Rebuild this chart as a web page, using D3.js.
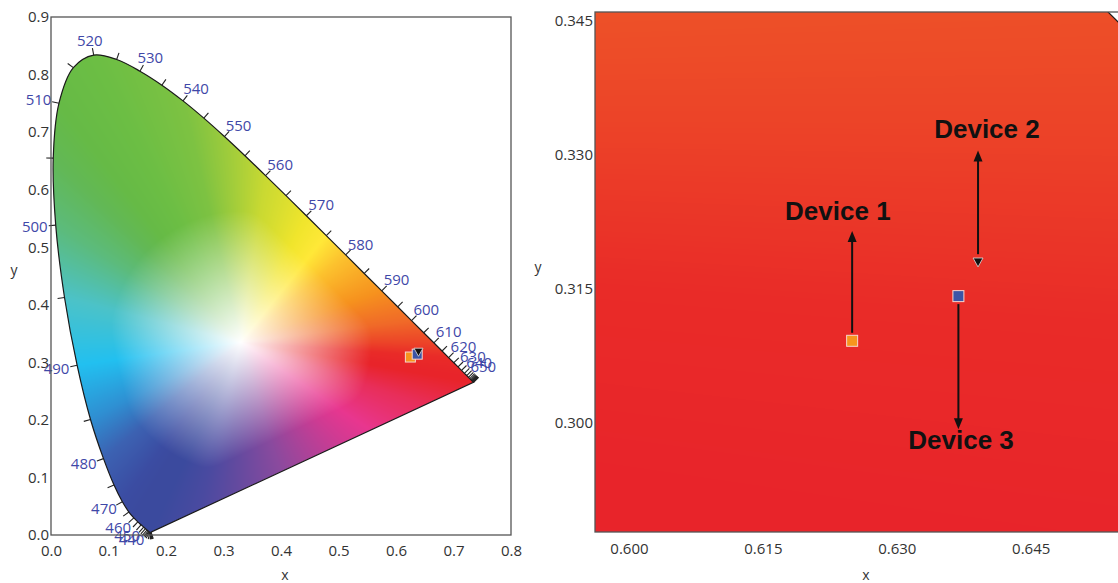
<!DOCTYPE html>
<html>
<head>
<meta charset="UTF-8">
<style>
  body { margin: 0; background: #fff; }
  svg { display: block; }
</style>
</head>
<body>
<svg></svg>
<script src="https://d3js.org/d3.v7.min.js"></script>
<script>
const width = 1118, height = 583;

// CIE 1931 spectral locus, 380..700 nm in 5 nm steps
const locusWl = d3.range(380, 705, 5);
const locusX = [0.1741,0.1740,0.1738,0.1736,0.1733,0.1730,0.1726,0.1721,0.1714,0.1703,0.1689,0.1669,0.1644,0.1611,0.1566,0.1510,
  0.1440,0.1355,0.1241,0.1096,0.0913,0.0687,0.0454,0.0235,0.0082,0.0039,0.0139,0.0389,0.0743,0.1142,0.1547,0.1929,
  0.2296,0.2658,0.3016,0.3373,0.3731,0.4087,0.4441,0.4788,0.5125,0.5448,0.5752,0.6029,0.6270,0.6482,0.6658,0.6801,
  0.6915,0.7006,0.7079,0.7140,0.7190,0.7230,0.7260,0.7283,0.7300,0.7311,0.7320,0.7327,0.7334,0.7340,0.7344,0.7346,0.7347];
const locusY = [0.0050,0.0050,0.0049,0.0049,0.0048,0.0048,0.0048,0.0048,0.0051,0.0058,0.0069,0.0086,0.0109,0.0138,0.0177,0.0227,
  0.0297,0.0399,0.0578,0.0868,0.1327,0.2007,0.2950,0.4127,0.5384,0.6548,0.7502,0.8120,0.8338,0.8262,0.8059,0.7816,
  0.7543,0.7243,0.6923,0.6589,0.6245,0.5896,0.5547,0.5202,0.4866,0.4544,0.4242,0.3965,0.3725,0.3514,0.3340,0.3197,
  0.3083,0.2993,0.2920,0.2859,0.2809,0.2770,0.2740,0.2717,0.2700,0.2689,0.2680,0.2673,0.2666,0.2660,0.2656,0.2654,0.2653];

// wavelengths that carry a label (every other tick)
const labelWl = d3.range(440, 660, 10);

// colours seen along the edge of the diagram
const edgeWl = [460, 470, 480, 485, 490, 495, 500, 505, 510, 520, 540, 550, 560, 570, 575, 580, 590, 600, 610, 620, 650];
const edgeCol = ["#3b4a9e", "#3b4ca2", "#3c62b2", "#2f8fd2", "#22c0f0", "#4cc2c8", "#5cbb7c", "#62b856", "#66ba46", "#6cbe44",
  "#7dc242", "#9ccb3c", "#c9d932", "#f0e52c", "#ffe838", "#fcc22e", "#f6921e", "#f06a28", "#ec4428", "#e92b28", "#e8242a"];
// colours along the purple line (0 = 380 nm end, 1 = 700 nm end)
const purpleT = [0.0, 0.15, 0.4, 0.6, 0.68, 0.85];
const purpleCol = ["#3b4a9e", "#4a4aa0", "#8a4a9e", "#d23a92", "#e8368f", "#e82e5a"];
const whitePoint = [0.33, 0.335];

// devices
const devName = ["Device 1", "Device 2", "Device 3"];
const devX = [0.625, 0.6391, 0.6369];
const devY = [0.3092, 0.3180, 0.3142];
const devShape = ["square", "triangle", "square"];
const devColor = ["#f7941d", "#111111", "#3b55a6"];
// arrows and labels in the zoomed panel (data units)
const arrowTipY = [0.3215, 0.3305, 0.2993];
const labelX = [0.6234, 0.6401, 0.6372];
const labelY = [0.3227, 0.3319, 0.2971];

const xTicksL = d3.range(0, 0.81, 0.1), yTicksL = d3.range(0, 0.91, 0.1);
const xTicksR = [0.600, 0.615, 0.630, 0.645], yTicksR = [0.300, 0.315, 0.330, 0.345];

const svg = d3.select("svg").attr("width", width).attr("height", height)
  .style("font-family", "'Open Sans', sans-serif");

const xL = d3.scaleLinear().domain([0, 0.8]).range([51, 511]);
const yL = d3.scaleLinear().domain([0, 0.9]).range([535, 17]);
const xR = d3.scaleLinear().domain([0.5962, 0.6550]).range([595, 1120]);
const yR = d3.scaleLinear().domain([0.2878, 0.3460]).range([532, 12]);

const locus = locusWl.map((w, i) => [locusX[i], locusY[i]]);
const nL = locus.length;

// ---- colour field: edge colour by angle round the white point, faded to white towards it
const TAU = Math.PI * 2, NB = 2880;
const angOf = p => Math.atan2(p[1] - whitePoint[1], p[0] - whitePoint[0]);
const a0 = angOf(locus[nL - 1]) - 1e-4;
const rel = p => { let a = angOf(p) - a0; while (a < 0) a += TAU; return a % TAU; };

let stops = [{a: 0, c: edgeCol[edgeCol.length - 1]}, {a: TAU, c: edgeCol[edgeCol.length - 1]}];
edgeWl.forEach((w, i) => stops.push({a: rel(locus[locusWl.indexOf(w)]), c: edgeCol[i]}));
purpleT.forEach((t, i) => {
  const p = [locus[0][0] + t * (locus[nL - 1][0] - locus[0][0]), locus[0][1] + t * (locus[nL - 1][1] - locus[0][1])];
  stops.push({a: rel(p), c: purpleCol[i]});
});
stops.sort((a, b) => a.a - b.a);
const edgeScale = d3.scaleLinear().domain(stops.map(s => s.a)).range(stops.map(s => s.c));

const rawB = new Float64Array(NB), edgeRgb = [];
for (let b = 0; b < NB; b++) {
  const th = a0 + (b + 0.5) / NB * TAU, dx = Math.cos(th), dy = Math.sin(th);
  let best = Infinity;
  for (let k = 0; k < nL; k++) {
    const p = locus[k], q = locus[(k + 1) % nL];
    const ex = q[0] - p[0], ey = q[1] - p[1];
    const den = dx * ey - dy * ex;
    if (Math.abs(den) < 1e-12) continue;
    const wx = p[0] - whitePoint[0], wy = p[1] - whitePoint[1];
    const t = (wx * ey - wy * ex) / den, u = (wx * dy - wy * dx) / den;
    if (t > 0 && u >= -1e-9 && u <= 1 + 1e-9) best = Math.min(best, t);
  }
  rawB[b] = Math.min(best, 0.3);
  edgeRgb.push(d3.rgb(edgeScale((b + 0.5) / NB * TAU)));
}
// soften the kinks of the edge so that no hard rays show
const boundary = new Float64Array(NB), SW = 40;
for (let b = 0; b < NB; b++) {
  let s = 0;
  for (let k = -SW; k <= SW; k++) s += rawB[(b + k + NB) % NB];
  boundary[b] = s / (2 * SW + 1);
}

function renderField(sx, sy, x0, y0, w, h, s) {
  const cv = document.createElement("canvas");
  cv.width = Math.round(w * s); cv.height = Math.round(h * s);
  const ctx = cv.getContext("2d");
  const img = ctx.createImageData(cv.width, cv.height), px = img.data;
  for (let j = 0; j < cv.height; j++) {
    const dy = sy.invert(y0 + (j + 0.5) / s) - whitePoint[1];
    for (let i = 0; i < cv.width; i++) {
      const dx = sx.invert(x0 + (i + 0.5) / s) - whitePoint[0];
      let a = Math.atan2(dy, dx) - a0;
      while (a < 0) a += TAU;
      const b = Math.floor(a / TAU * NB) % NB;
      const r = Math.hypot(dx, dy) / boundary[b];
      if (r > 3) continue;
      const t = Math.min(1, r / 0.76), c = edgeRgb[b], o = (j * cv.width + i) * 4;
      px[o] = 255 + (c.r - 255) * t;
      px[o + 1] = 255 + (c.g - 255) * t;
      px[o + 2] = 255 + (c.b - 255) * t;
      px[o + 3] = 255;
    }
  }
  ctx.putImageData(img, 0, 0);
  return cv.toDataURL();
}

const defs = svg.append("defs");
const locusPath = (sx, sy) => d3.line().curve(d3.curveCatmullRom.alpha(0.5))
  .x(d => sx(d[0])).y(d => sy(d[1]))(locus) + "Z";

defs.append("clipPath").attr("id", "clipL").append("path").attr("d", locusPath(xL, yL));
defs.append("clipPath").attr("id", "clipR").append("path").attr("d", locusPath(xR, yR));
defs.append("clipPath").attr("id", "frameR").append("rect")
  .attr("x", xR.range()[0]).attr("y", yR.range()[1])
  .attr("width", xR.range()[1] - xR.range()[0]).attr("height", yR.range()[0] - yR.range()[1]);

// ================= left panel =================
const gL = svg.append("g");
gL.append("image").attr("x", 40).attr("y", 10).attr("width", 480).attr("height", 530)
  .attr("preserveAspectRatio", "none")
  .attr("href", renderField(xL, yL, 40, 10, 480, 530, 2))
  .attr("clip-path", "url(#clipL)");
gL.append("path").attr("d", locusPath(xL, yL))
  .attr("fill", "none").attr("stroke", "#1a1a1a").attr("stroke-width", 1.2);

// wavelength ticks and labels
const lp = locus.map(d => [xL(d[0]), yL(d[1])]);
const wp = [xL(whitePoint[0]), yL(whitePoint[1])];
locusWl.forEach((w, k) => {
  const prev = lp[Math.max(0, k - 1)], next = lp[Math.min(nL - 1, k + 1)], p = lp[k];
  let tx = next[0] - prev[0], ty = next[1] - prev[1];
  const len = Math.hypot(tx, ty) || 1;
  let nx = -ty / len, ny = tx / len;
  if (nx * (p[0] - wp[0]) + ny * (p[1] - wp[1]) < 0) { nx = -nx; ny = -ny; }
  const e = [p[0] + nx * 7, p[1] + ny * 7];
  gL.append("line").attr("x1", p[0]).attr("y1", p[1]).attr("x2", e[0]).attr("y2", e[1])
    .attr("stroke", "#222").attr("stroke-width", 1.1);
  if (labelWl.includes(w)) {
    gL.append("text").attr("x", e[0] + nx * 14).attr("y", e[1] + ny * 8)
      .attr("dy", "0.35em").attr("text-anchor", "middle")
      .attr("font-size", 15).attr("fill", "#3f48a8").text(w);
  }
});

// markers on the diagram
function drawMarkers(g, sx, sy, size) {
  devName.forEach((n, i) => {
    const cx = sx(devX[i]), cy = sy(devY[i]);
    if (devShape[i] === "square") {
      g.append("rect").attr("x", cx - size / 2).attr("y", cy - size / 2)
        .attr("width", size).attr("height", size)
        .attr("fill", devColor[i]).attr("stroke", "#f6d6cf").attr("stroke-width", 1);
    }
  });
  devName.forEach((n, i) => {
    const cx = sx(devX[i]), cy = sy(devY[i]);
    if (devShape[i] === "triangle") {
      const s = size * 0.9;
      g.append("path")
        .attr("d", `M${cx - s / 2},${cy - s * 0.42}L${cx + s / 2},${cy - s * 0.42}L${cx},${cy + s * 0.48}Z`)
        .attr("fill", devColor[i]).attr("stroke", "#ddd").attr("stroke-width", 0.8);
    }
  });
}
drawMarkers(gL, xL, yL, 10);

gL.append("rect").attr("x", xL.range()[0]).attr("y", yL.range()[1])
  .attr("width", xL.range()[1] - xL.range()[0]).attr("height", yL.range()[0] - yL.range()[1])
  .attr("fill", "none").attr("stroke", "#555").attr("stroke-width", 1.3);

function styleAxis(g, fs) {
  g.select(".domain").remove();
  g.selectAll("text").attr("fill", "#333").attr("font-size", fs)
    .attr("font-family", "'Open Sans', sans-serif");
}
svg.append("g").attr("transform", `translate(${xL.range()[0]},0)`)
  .call(d3.axisLeft(yL).tickValues(yTicksL).tickFormat(d3.format(".1f")).tickSize(0).tickPadding(2))
  .call(g => styleAxis(g, 15));
svg.append("g").attr("transform", `translate(0,${yL.range()[0]})`)
  .call(d3.axisBottom(xL).tickValues(xTicksL).tickFormat(d3.format(".1f")).tickSize(0).tickPadding(10))
  .call(g => styleAxis(g, 15));
svg.append("text").attr("x", 285).attr("y", 580).attr("text-anchor", "middle")
  .attr("font-size", 14).attr("fill", "#333").text("x");
svg.append("text").attr("x", 14).attr("y", 275).attr("text-anchor", "middle")
  .attr("font-size", 14).attr("fill", "#333").text("y");

// ================= right panel (zoom) =================
const gR = svg.append("g").attr("clip-path", "url(#frameR)");
const fx = xR.range()[0], fy = yR.range()[1], fw = xR.range()[1] - fx, fh = yR.range()[0] - fy;
gR.append("image").attr("x", fx).attr("y", fy).attr("width", fw).attr("height", fh)
  .attr("preserveAspectRatio", "none")
  .attr("href", renderField(xR, yR, fx, fy, fw, fh, 2))
  .attr("clip-path", "url(#clipR)");
gR.append("path").attr("d", locusPath(xR, yR))
  .attr("fill", "none").attr("stroke", "#1a1a1a").attr("stroke-width", 1.2);

// arrows from each marker to its label
devName.forEach((n, i) => {
  const cx = xR(devX[i]), cy = yR(devY[i]), tip = yR(arrowTipY[i]);
  const dir = tip < cy ? -1 : 1;
  const start = cy + dir * 8, headL = 11, headW = 4.5;
  gR.append("line").attr("x1", cx).attr("y1", start).attr("x2", cx).attr("y2", tip - dir * headL + dir)
    .attr("stroke", "#111").attr("stroke-width", 2);
  gR.append("path")
    .attr("d", `M${cx},${tip}L${cx - headW},${tip - dir * headL}L${cx + headW},${tip - dir * headL}Z`)
    .attr("fill", "#111");
  gR.append("text").attr("x", xR(labelX[i])).attr("y", yR(labelY[i])).attr("text-anchor", "middle")
    .attr("font-family", "'Liberation Sans', Arial, sans-serif").attr("font-weight", "bold")
    .attr("font-size", 26).attr("fill", "#111").text(n);
});
drawMarkers(gR, xR, yR, 11);

svg.append("rect").attr("x", fx).attr("y", fy).attr("width", fw).attr("height", fh)
  .attr("fill", "none").attr("stroke", "#555").attr("stroke-width", 1.3);

svg.append("g").attr("transform", `translate(${fx},0)`)
  .call(d3.axisLeft(yR).tickValues(yTicksR).tickFormat(d3.format(".3f")).tickSize(0).tickPadding(2))
  .call(g => styleAxis(g, 15));
svg.append("g").attr("transform", `translate(0,${fy + fh})`)
  .call(d3.axisBottom(xR).tickValues(xTicksR).tickFormat(d3.format(".3f")).tickSize(0).tickPadding(11))
  .call(g => styleAxis(g, 15));
svg.append("text").attr("x", 866).attr("y", 580).attr("text-anchor", "middle")
  .attr("font-size", 14).attr("fill", "#333").text("x");
svg.append("text").attr("x", 538).attr("y", 272).attr("text-anchor", "middle")
  .attr("font-size", 14).attr("fill", "#333").text("y");
</script>
</body>
</html>
